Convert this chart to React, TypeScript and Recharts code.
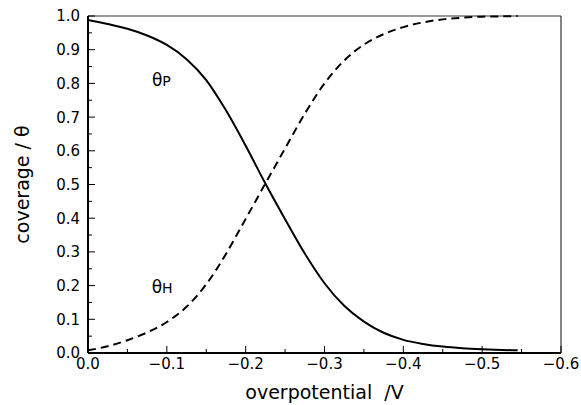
import { LineChart, Line, XAxis, YAxis, ReferenceLine, ReferenceDot, Label } from "recharts";

// overpotential in V (negative, drawn with 0 at the left)
const overpotential = [
  0, -0.025, -0.05, -0.075, -0.1, -0.125, -0.15, -0.175, -0.2, -0.225, -0.25, -0.275,
  -0.3, -0.325, -0.35, -0.375, -0.4, -0.425, -0.45, -0.475, -0.5, -0.525, -0.545,
];
const thetaP = [
  0.988, 0.976, 0.962, 0.942, 0.914, 0.872, 0.81, 0.72, 0.615, 0.503, 0.397, 0.295,
  0.207, 0.14, 0.093, 0.06, 0.039, 0.027, 0.019, 0.014, 0.011, 0.009, 0.008,
];
const thetaH = [
  0.008, 0.02, 0.038, 0.061, 0.092, 0.137, 0.204, 0.294, 0.398, 0.503, 0.607, 0.71,
  0.8, 0.868, 0.915, 0.946, 0.967, 0.981, 0.99, 0.995, 0.998, 0.999, 1.0,
];

const xTicks = [0, -0.05, -0.1, -0.15, -0.2, -0.25, -0.3, -0.35, -0.4, -0.45, -0.5, -0.55, -0.6];
const yTicks = [0, 0.05, 0.1, 0.15, 0.2, 0.25, 0.3, 0.35, 0.4, 0.45, 0.5, 0.55, 0.6, 0.65, 0.7, 0.75, 0.8, 0.85, 0.9, 0.95, 1.0];

// where the curve names sit
const labelP = { eta: -0.093, theta: 0.81 };
const labelH = { eta: -0.094, theta: 0.196 };

const data = overpotential.map((eta, i) => ({ eta, thetaP: thetaP[i], thetaH: thetaH[i] }));

const FONT = "'DejaVu Sans', sans-serif";
const TICK_MARGIN_X = 4;
const TICK_MARGIN_Y = 8;

const isMajor = (v: number) => Math.round(Math.abs(v) * 100) % 10 === 0;
const fmt = (v: number) => (v < 0 ? "\u2212" : "") + Math.abs(v).toFixed(1);

function XTick(props: any) {
  const { x, y, payload } = props;
  const v = payload.value as number;
  const base = y - TICK_MARGIN_X;
  return (
    <g>
      <line x1={x} x2={x} y1={base} y2={base - (isMajor(v) ? 7 : 4)} stroke="#000" strokeWidth={1} />
      {isMajor(v) && (
        <text x={x} y={y} dy="0.78em" textAnchor="middle" fontSize={15} fontFamily={FONT} fill="#000">
          {fmt(v)}
        </text>
      )}
    </g>
  );
}

function YTick(props: any) {
  const { x, y, payload } = props;
  const v = payload.value as number;
  const base = x + TICK_MARGIN_Y;
  return (
    <g>
      <line x1={base} x2={base + (isMajor(v) ? 7 : 4)} y1={y} y2={y} stroke="#000" strokeWidth={1} />
      {isMajor(v) && (
        <text x={x} y={y} dy="0.36em" textAnchor="end" fontSize={15} fontFamily={FONT} fill="#000">
          {v.toFixed(1)}
        </text>
      )}
    </g>
  );
}

function curveName(sub: string) {
  return (props: any) => {
    const { viewBox } = props;
    const cx = viewBox.x + viewBox.width / 2;
    const cy = viewBox.y + viewBox.height / 2;
    return (
      <text x={cx} y={cy} dy="0.35em" textAnchor="middle" fontFamily={FONT} fill="#000">
        <tspan fontSize={17}>θ</tspan>
        <tspan fontSize={14}>{sub}</tspan>
      </text>
    );
  };
}

export default function App() {
  return (
    <div style={{ position: "absolute", left: 0, top: 0, background: "#fff" }}>
      <LineChart width={581} height={405} data={data} margin={{ top: 16, right: 20, left: 0, bottom: 0 }}>
        <XAxis
          dataKey="eta"
          type="number"
          domain={[-0.6, 0]}
          reversed
          ticks={xTicks}
          interval={0}
          height={52}
          tickSize={0}
          tickMargin={TICK_MARGIN_X}
          tickLine={false}
          tick={<XTick />}
          axisLine={{ stroke: "#000", strokeWidth: 2 }}
        >
          <Label
            content={(p: any) => {
              const vb = p.viewBox;
              return (
                <text x={vb.x + vb.width / 2} y={399} textAnchor="middle" fontSize={19} fontFamily={FONT} fill="#000">
                  overpotential{"\u00a0 "}/V
                </text>
              );
            }}
          />
        </XAxis>
        <YAxis
          type="number"
          domain={[0, 1]}
          ticks={yTicks}
          interval={0}
          width={88}
          tickSize={0}
          tickMargin={TICK_MARGIN_Y}
          tickLine={false}
          tick={<YTick />}
          axisLine={{ stroke: "#000", strokeWidth: 2 }}
        >
          <Label
            content={(p: any) => {
              const vb = p.viewBox;
              const cx = 22;
              const cy = vb.y + vb.height / 2;
              return (
                <text
                  x={cx}
                  y={cy}
                  dy="0.35em"
                  transform={`rotate(-90, ${cx}, ${cy})`}
                  textAnchor="middle"
                  fontSize={19}
                  fontFamily={FONT}
                  fill="#000"
                >
                  coverage / θ
                </text>
              );
            }}
          />
        </YAxis>
        <ReferenceLine y={1} stroke="#333" strokeWidth={1.2} />
        <ReferenceLine x={-0.6} stroke="#333" strokeWidth={1.2} />
        <Line
          type="monotone"
          dataKey="thetaP"
          stroke="#000"
          strokeWidth={2}
          dot={false}
          isAnimationActive={false}
        />
        <Line
          type="monotone"
          dataKey="thetaH"
          stroke="#000"
          strokeWidth={2}
          strokeDasharray="8 5"
          dot={false}
          isAnimationActive={false}
        />
        <ReferenceDot x={labelP.eta} y={labelP.theta} r={1} fill="none" stroke="none" label={{ content: curveName("P") }} />
        <ReferenceDot x={labelH.eta} y={labelH.theta} r={1} fill="none" stroke="none" label={{ content: curveName("H") }} />
      </LineChart>
    </div>
  );
}
